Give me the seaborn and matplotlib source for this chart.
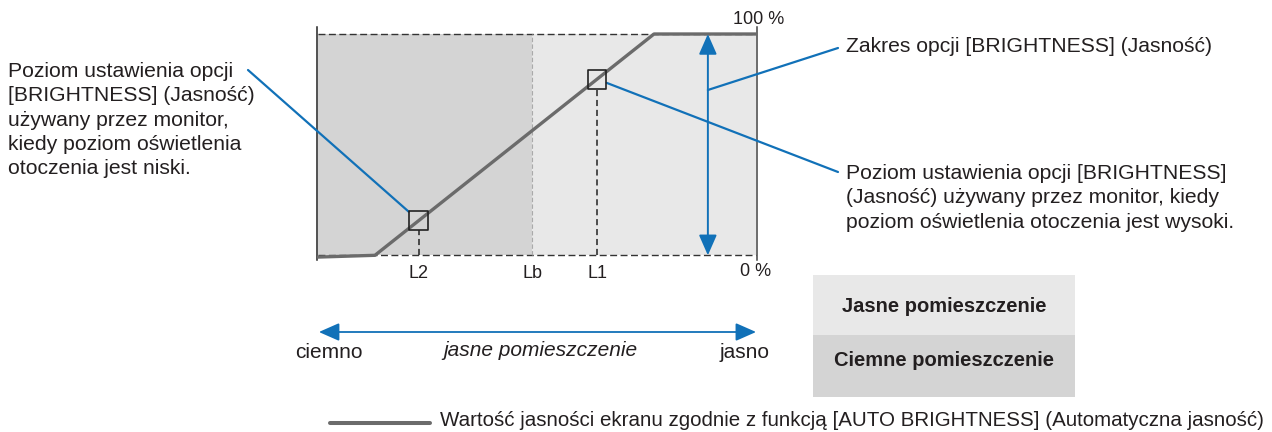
import numpy as np
import matplotlib
matplotlib.use("Agg")
import matplotlib.pyplot as plt
import seaborn as sns
from matplotlib.lines import Line2D
from matplotlib.patches import Rectangle

# Ambient light level (0 = dark room, 100 = bright room) vs. screen brightness (%)
ambient = [0, 13.0, 76.7, 100]
brightness = [-0.8, 0.0, 100, 100]

# Reference ambient levels marked on the x axis
ref_labels = ["L2", "Lb", "L1"]
L2, LB, L1 = 23.0, 48.9, 63.7

room_labels = ["Jasne pomieszczenie", "Ciemne pomieszczenie"]
curve_label = "Wartość jasności ekranu zgodnie z funkcją [AUTO BRIGHTNESS] (Automatyczna jasność)"

BLUE = "#1171b8"
CURVE = "#6b6b6b"
DARK_BG = "#d4d4d4"
LIGHT_BG = "#e8e8e8"
TXT = "#231f20"

sns.set_style("white")
plt.rcParams["font.family"] = ["Liberation Sans", "DejaVu Sans"]

W, H = 1272, 432
fig = plt.figure(figsize=(W / 100, H / 100), dpi=100)
fig.patch.set_facecolor("white")


def ff(x, y):
    """top-left pixel position -> figure fraction"""
    return x / W, 1 - y / H


# main plot area
left, right, top, bottom = 316.7, 756.5, 27, 260
ax = fig.add_axes([left / W, 1 - bottom / H, (right - left) / W, (bottom - top) / H])
ax.set_xlim(-0.3, 100.1)
ax.set_ylim(-(bottom - 255.3) / 2.213, 100 + (34 - top) / 2.213)
ax.set_facecolor("white")

# room zones
ax.fill_between([0, LB], 0, 100, color=DARK_BG, lw=0, zorder=0)
ax.fill_between([LB, 100], 0, 100, color=LIGHT_BG, lw=0, zorder=0)

# 0 % / 100 % guides and the Lb boundary
ax.hlines([0, 100], 0, 100, colors="#333333", linestyles=(0, (5, 2.5)), lw=1.0, zorder=1)
ax.vlines(LB, 0, 100, colors="#aaaaaa", linestyles=(0, (4, 2)), lw=0.8, zorder=1)

# brightness curve
sns.lineplot(x=ambient, y=brightness, ax=ax, color=CURVE, lw=2.4,
             estimator=None, sort=False, zorder=3)

# set points on the curve
b2 = np.interp(L2, ambient, brightness)
b1 = np.interp(L1, ambient, brightness)
half = 9.5 / 2.213
ax.vlines([L2, L1], 0, [b2 - half, b1 - half], colors="#222222",
          linestyles=(0, (4, 2.5)), lw=1.1, zorder=2)
ax.scatter([L2, L1], [b2, b1], marker="s", s=185, facecolors="none",
           edgecolors="#222222", linewidths=1.2, zorder=4)

# brightness range arrow
RANGE_X = 89.0
ax.annotate("", xy=(RANGE_X, 100), xytext=(RANGE_X, 0),
            arrowprops=dict(arrowstyle="<|-|>,head_length=1.25,head_width=0.55",
                            mutation_scale=10, color=BLUE, lw=1.4,
                            shrinkA=0, shrinkB=0), zorder=5)

# axes styling
for side in ("top", "bottom"):
    ax.spines[side].set_visible(False)
ax.spines["left"].set_color("#222222")
ax.spines["left"].set_linewidth(1.1)
ax.spines["right"].set_color("#444444")
ax.spines["right"].set_linewidth(1.1)
ax.set_xticks([L2, LB, L1], ref_labels)
ax.set_yticks([])
ax.tick_params(axis="x", length=0, pad=3.5, labelsize=13, colors=TXT)

fig.text(*ff(759, 19), "100 %", ha="center", va="center", fontsize=13, color=TXT)
fig.text(*ff(756, 271), "0 %", ha="center", va="center", fontsize=13, color=TXT)

# leader lines and callout texts
leader = dict(arrowstyle="-", color=BLUE, lw=1.6, shrinkA=0)
ax.annotate("", xy=(L2, b2), xytext=(248, H - 70), textcoords="figure pixels",
            arrowprops=dict(**leader, shrinkB=9.6), annotation_clip=False)
ax.annotate("", xy=(L1, b1), xytext=(838, H - 172), textcoords="figure pixels",
            arrowprops=dict(**leader, shrinkB=7.5), annotation_clip=False)
ax.annotate("", xy=(RANGE_X, (255.3 - 90) / 2.213), xytext=(838, H - 48),
            textcoords="figure pixels",
            arrowprops=dict(**leader, shrinkB=0), annotation_clip=False)

fig.text(*ff(8, 120),
         "Poziom ustawienia opcji\n[BRIGHTNESS] (Jasność)\nużywany przez monitor,\n"
         "kiedy poziom oświetlenia\notoczenia jest niski.",
         ha="left", va="center", fontsize=15.2, color=TXT, linespacing=1.36)
fig.text(*ff(846, 47), "Zakres opcji [BRIGHTNESS] (Jasność)",
         ha="left", va="center", fontsize=15.2, color=TXT)
fig.text(*ff(846, 198),
         "Poziom ustawienia opcji [BRIGHTNESS]\n(Jasność) używany przez monitor, kiedy\n"
         "poziom oświetlenia otoczenia jest wysoki.",
         ha="left", va="center", fontsize=15.2, color=TXT, linespacing=1.36)

# ambient light direction arrow
ax.annotate("", xy=(0.2, H - 332), xycoords=("data", "figure pixels"),
            xytext=(100, H - 332), textcoords=("data", "figure pixels"),
            arrowprops=dict(arrowstyle="<|-|>,head_length=1.25,head_width=0.55",
                            mutation_scale=10, color=BLUE, lw=1.3,
                            shrinkA=0, shrinkB=0), annotation_clip=False)
fig.text(*ff(329, 353), "ciemno", ha="center", va="center", fontsize=15, color=TXT)
fig.text(*ff(540, 350), "jasne pomieszczenie", ha="center", va="center",
         fontsize=15, style="italic", color=TXT)
fig.text(*ff(745, 353), "jasno", ha="center", va="center", fontsize=15, color=TXT)

# room key
for (y0, y1), colour, label, ty in zip([(275, 335), (335, 397)], [LIGHT_BG, DARK_BG],
                                      room_labels, [307, 360]):
    x0, yb = ff(813, y1)
    fig.add_artist(Rectangle((x0, yb), 262 / W, (y1 - y0) / H, transform=fig.transFigure,
                             facecolor=colour, edgecolor="none", zorder=0))
    fig.text(*ff(944, ty), label, ha="center", va="center", fontsize=14.5,
             fontweight="bold", color=TXT)

# curve key
fig.add_artist(Line2D([330 / W, 430 / W], [1 - 422.5 / H] * 2, transform=fig.transFigure,
                      color=CURVE, lw=2.9))
key = fig.text(*ff(440, 420), curve_label, ha="left", va="center", fontsize=15, color=TXT)
renderer = fig.canvas.get_renderer()
width = key.get_window_extent(renderer).width
key.set_fontsize(15 * min(1.0, 825 / width))

fig.savefig("out.png", dpi=100)
